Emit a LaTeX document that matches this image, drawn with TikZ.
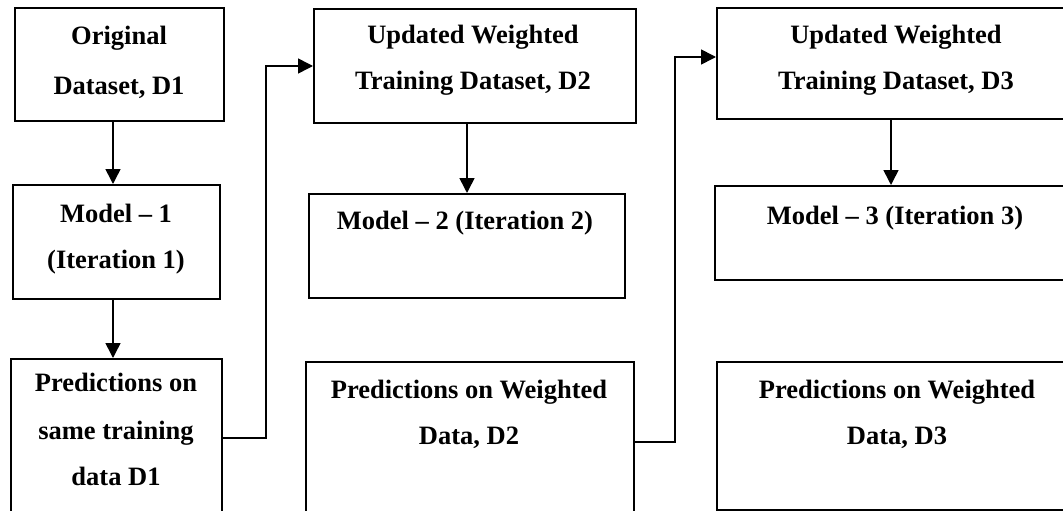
\documentclass[tikz,border=0pt]{standalone}
\usepackage{fontspec}
\setmainfont{Liberation Serif}
\usetikzlibrary{arrows.meta}
\tikzset{
  box/.style={draw, line width=1.6pt, rectangle, inner sep=0pt, anchor=north west},
  txt/.style={font=\fontsize{26.5}{46}\selectfont\bfseries, align=center, inner sep=0pt, anchor=base},
  arr/.style={line width=1.6pt, -{Triangle[width=15pt,length=15pt]}},
  conn/.style={line width=1.6pt}
}
\begin{document}
\begin{tikzpicture}[x=1pt,y=-1pt]
\useasboundingbox (0,0) rectangle (1063,511);
\clip (0,0) rectangle (1063,511);
% boxes
\node[box, minimum width=209pt, minimum height=113pt] (b1) at (14,7) {};
\node[box, minimum width=207pt, minimum height=114pt] (m1) at (12,184) {};
\node[box, minimum width=211pt, minimum height=190pt] (p1) at (10,358) {};
\node[box, minimum width=322pt, minimum height=114pt] (b2) at (313,8) {};
\node[box, minimum width=316pt, minimum height=104pt] (m2) at (308,193) {};
\node[box, minimum width=328pt, minimum height=190pt] (p2) at (305,361) {};
\node[box, minimum width=361pt, minimum height=111pt] (b3) at (716,7) {};
\node[box, minimum width=363pt, minimum height=94pt] (m3) at (714,185) {};
\node[box, minimum width=362pt, minimum height=148pt] (p3) at (716,361) {};
% texts (base anchor = baseline of last line)
\node[txt] (tb1) at (119,94) {Original\\[4pt]Dataset, D1};
\node[txt] (tm1) at (116,268) {Model -- 1\\(Iteration 1)};
\node[txt] (tp1) at (116,485) {Predictions on\\[2pt]same training\\data D1};
\node[txt] (tb2) at (473,89) {Updated Weighted\\Training Dataset, D2};
\node[txt] (tm2) at (465,229) {Model -- 2 (Iteration 2)};
\node[txt] (tp2) at (469,444) {Predictions on Weighted\\Data, D2};
\node[txt] (tb3) at (896,89) {Updated Weighted\\Training Dataset, D3};
\node[txt] (tm3) at (895,224) {Model -- 3 (Iteration 3)};
\node[txt] (tp3) at (897,444) {Predictions on Weighted\\Data, D3};
% helper coordinates
\coordinate (a1) at (113,0);
\coordinate (a2) at (467,0);
\coordinate (a3) at (891,0);
\coordinate (k1) at (266,438);
\coordinate (h1) at (266,66);
\coordinate (k2) at (675,442);
\coordinate (h2) at (675,57);
% connectors
\draw[arr] (b1.south -| a1) -- (m1.north -| a1);
\draw[arr] (m1.south -| a1) -- (p1.north -| a1);
\draw[arr] (b2.south -| a2) -- (m2.north -| a2);
\draw[arr] (b3.south -| a3) -- (m3.north -| a3);
\draw[arr] (p1.east |- k1) -- (k1) -- (h1) -- (b2.west |- h1);
\draw[arr] (p2.east |- k2) -- (k2) -- (h2) -- (b3.west |- h2);
\end{tikzpicture}
\end{document}
